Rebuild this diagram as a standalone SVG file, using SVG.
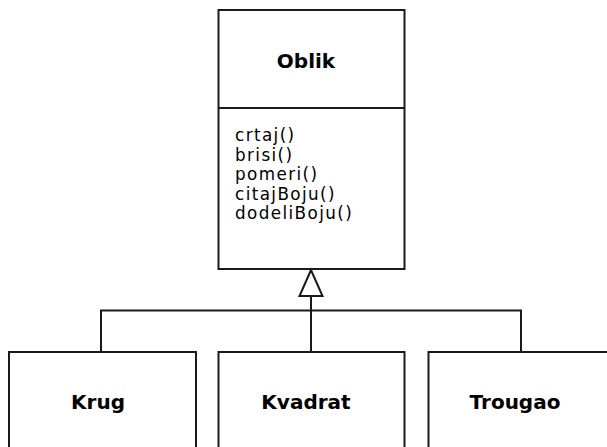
<svg xmlns="http://www.w3.org/2000/svg" width="607" height="447" viewBox="0 0 607 447">
<style>
.box{fill:#fff;stroke:#1a1a1a;stroke-width:2}
.ln{fill:none;stroke:#1a1a1a;stroke-width:2}
.title{font-family:"DejaVu Sans",sans-serif;font-weight:bold;font-size:20px;fill:#000;text-anchor:middle}
.op{font-family:"DejaVu Sans",sans-serif;font-size:16.8px;letter-spacing:1.4px;fill:#000}
</style>
<rect width="607" height="447" fill="#fff"/>
<g id="Oblik">
<rect class="box" x="218.5" y="10" width="186" height="259"/>
<line class="ln" x1="218.5" y1="108" x2="404.5" y2="108"/>
<text class="title" x="306" y="68">Oblik</text>
<text class="op" x="235" y="141">crtaj()</text>
<text class="op" x="235" y="160.5">brisi()</text>
<text class="op" x="235" y="180">pomeri()</text>
<text class="op" x="235" y="199.5">citajBoju()</text>
<text class="op" x="235" y="219">dodeliBoju()</text>
</g>
<g id="connectors">
<polyline class="ln" points="101,352 101,310.5 521,310.5 521,352"/>
<line class="ln" x1="311" y1="296" x2="311" y2="352"/>
<polygon points="311,270 299.5,296 322.5,296" fill="#fff" stroke="#1a1a1a" stroke-width="2" stroke-linejoin="miter"/>
</g>
<g id="Krug">
<rect class="box" x="9" y="352" width="187" height="110"/>
<text class="title" x="98" y="409">Krug</text>
</g>
<g id="Kvadrat">
<rect class="box" x="218.5" y="352" width="186" height="110"/>
<text class="title" x="306" y="409">Kvadrat</text>
</g>
<g id="Trougao">
<rect class="box" x="428.5" y="352" width="187" height="110"/>
<text class="title" x="515" y="409">Trougao</text>
</g>
</svg>
